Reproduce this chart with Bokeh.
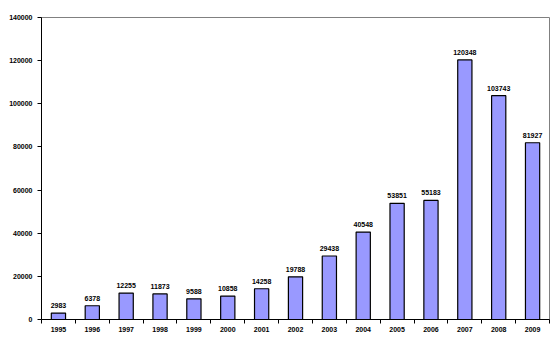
from bokeh.plotting import figure
from bokeh.models import ColumnDataSource, FixedTicker, Range1d
from bokeh.core.properties import value
from bokeh.embed import file_html
from bokeh.resources import INLINE

years = ["1995", "1996", "1997", "1998", "1999", "2000", "2001", "2002",
         "2003", "2004", "2005", "2006", "2007", "2008", "2009"]
counts = [2983, 6378, 12255, 11873, 9588, 10858, 14258, 19788,
          29438, 40548, 53851, 55183, 120348, 103743, 81927]
y_ticks = [0, 20000, 40000, 60000, 80000, 100000, 120000, 140000]

xs = [i + 0.5 for i in range(len(years))]
src = ColumnDataSource(dict(x=xs, top=counts, label=[str(c) for c in counts]))

p = figure(width=557, height=346, output_backend="svg", toolbar_location=None,
           x_range=Range1d(0, len(years)), y_range=Range1d(0, 140000),
           min_border_left=41, min_border_right=8, min_border_top=17, min_border_bottom=27)

p.vbar(x="x", top="top", width=0.42, source=src, fill_color="#9999FF",
       line_color="black", line_width=1.2)
p.text(x="x", y="top", text="label", source=src, text_align="center",
       text_baseline="bottom", y_offset=-5, text_font=value("Liberation Sans"),
       text_font_style="bold", text_font_size="7px", text_color="black")

p.grid.visible = False
p.outline_line_color = "#808080"
p.outline_line_width = 1

p.xaxis.ticker = FixedTicker(ticks=xs, minor_ticks=list(range(len(years) + 1)))
p.xaxis.major_label_overrides = {x: y for x, y in zip(xs, years)}
p.xaxis.major_tick_out = 0
p.xaxis.major_tick_in = 0
p.xaxis.minor_tick_out = 4
p.xaxis.minor_tick_in = 0
p.xaxis.minor_tick_line_color = "black"

p.yaxis.ticker = FixedTicker(ticks=y_ticks, minor_ticks=[])
p.yaxis.major_tick_out = 4
p.yaxis.major_tick_in = 0
p.yaxis.formatter.use_scientific = False

for ax in (p.xaxis, p.yaxis):
    ax.axis_line_color = "black"
    ax.axis_line_width = 1
    ax.major_tick_line_color = "black"
    ax.major_label_text_font = "Liberation Sans"
    ax.major_label_text_font_style = "bold"
    ax.major_label_text_font_size = "7px"
    ax.major_label_text_color = "black"
    ax.major_label_standoff = 5
p.xaxis.major_label_standoff = 3

open("out.html", "w").write(file_html(p, INLINE))
